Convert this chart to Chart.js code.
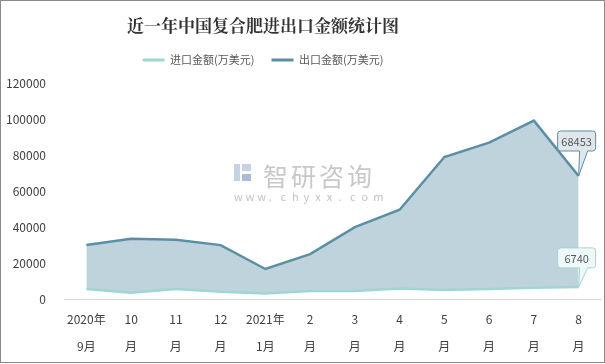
<!DOCTYPE html>
<html>
<head>
<meta charset="utf-8">
<script src="https://cdn.jsdelivr.net/npm/chart.js@4"></script>
<style>
  html, body { margin: 0; padding: 0; background: #fff; }
  #wrap { width: 603px; height: 361px; border: 1px solid #8a8a8a; position: relative; }
</style>
</head>
<body>
<div id="wrap"><canvas id="tradeChart"></canvas></div>
<script>
// Monthly data, 2020-09 .. 2021-08
const months = [['2020年', '9月'], ['10', '月'], ['11', '月'], ['12', '月'], ['2021年', '1月'], ['2', '月'],
    ['3', '月'], ['4', '月'], ['5', '月'], ['6', '月'], ['7', '月'], ['8', '月']];
const importValues = [5500, 3500, 5600, 4000, 3000, 4500, 4500, 5800, 5000, 5500, 6300, 6740];
const exportValues = [30000, 33500, 33000, 30000, 16700, 25000, 40000, 49700, 79000, 87000, 99300, 68453];
const yTicks = [0, 20000, 40000, 60000, 80000, 100000, 120000];

const cjk = '"Noto Sans CJK SC", "Noto Sans", sans-serif';

// shift a layout box horizontally when it is drawn
function shiftBox(box, dx) {
    const draw = box.draw.bind(box);
    box.draw = function (area) {
        this.ctx.save();
        this.ctx.translate(dx, 0);
        draw(area);
        this.ctx.restore();
    };
}

// Watermark + callouts for last values
const extras = {
    id: 'extras',
    afterInit(chart) {
        // extra gap below the legend
        const lg = chart.legend;
        const fit = lg.fit.bind(lg);
        lg.fit = function () { fit(); this.height += 8; };
        shiftBox(lg, -40);
        shiftBox(chart.titleBlock, -40);
    },
    beforeDatasetsDraw(chart) {
        const ctx = chart.ctx;
        ctx.save();
        // logo-ish mark
        ctx.fillStyle = '#c5d3e3';
        ctx.fillRect(233, 163, 6, 17);
        ctx.fillRect(241, 163, 9, 7);
        ctx.fillStyle = '#a9bed6';
        ctx.fillRect(241, 173, 9, 7);
        ctx.fillStyle = '#c8c8c8';
        ctx.font = '25px ' + cjk;
        ctx.textBaseline = 'middle';
        let x = 262;
        for (const ch of '智研咨询') { ctx.fillText(ch, x, 175); x += 28; }
        ctx.font = '11px ' + cjk;
        ctx.fillStyle = '#c3c3c3';
        x = 233;
        for (const ch of 'www.chyxx.com') { ctx.fillText(ch, x, 196); x += 11.6; }
        ctx.restore();
    },
    afterDatasetsDraw(chart) {
        const ctx = chart.ctx;
        const drawBox = (ds, text, stroke, fill, dy) => {
            const meta = chart.getDatasetMeta(ds);
            const pt = meta.data[meta.data.length - 1];
            const w = 38, h = 20;
            const bx = pt.x - 21, by = pt.y + dy;
            ctx.save();
            ctx.beginPath();
            const r = 3;
            ctx.moveTo(bx + r, by);
            ctx.lineTo(bx + w - r, by);
            ctx.quadraticCurveTo(bx + w, by, bx + w, by + r);
            ctx.lineTo(bx + w, by + h - r);
            ctx.quadraticCurveTo(bx + w, by + h, bx + w - r, by + h);
            ctx.lineTo(bx + w - 8, by + h);
            ctx.lineTo(pt.x, pt.y);
            ctx.lineTo(bx + w - 16, by + h);
            ctx.lineTo(bx + r, by + h);
            ctx.quadraticCurveTo(bx, by + h, bx, by + h - r);
            ctx.lineTo(bx, by + r);
            ctx.quadraticCurveTo(bx, by, bx + r, by);
            ctx.closePath();
            ctx.fillStyle = fill;
            ctx.fill();
            ctx.strokeStyle = stroke;
            ctx.lineWidth = 1;
            ctx.stroke();
            ctx.fillStyle = '#595959';
            ctx.font = '11px ' + cjk;
            ctx.textAlign = 'center';
            ctx.textBaseline = 'middle';
            ctx.fillText(text, bx + w / 2, by + h / 2 + 1);
            ctx.restore();
        };
        drawBox(1, String(exportValues[exportValues.length - 1]), '#5b8fa3', '#dde7ec', -45);
        drawBox(0, String(importValues[importValues.length - 1]), '#9fd6d3', '#eef8f8', -39);
    }
};

document.addEventListener('DOMContentLoaded', () => {
    const el = document.getElementById('tradeChart');
    if (!el) return;
    new Chart(el.getContext('2d'), {
        type: 'line',
        data: {
            labels: months,
            datasets: [
                {
                    label: '进口金额(万美元)',
                    data: importValues,
                    borderColor: '#9fd6d3',
                    backgroundColor: '#9fd6d3',
                    borderWidth: 2.5,
                    pointRadius: 0,
                    fill: false,
                    tension: 0
                },
                {
                    label: '出口金额(万美元)',
                    data: exportValues,
                    borderColor: '#5b8fa3',
                    backgroundColor: '#bfd3dc',
                    borderWidth: 2.5,
                    pointRadius: 0,
                    fill: '-1',
                    tension: 0
                }
            ]
        },
        options: {
            responsive: true,
            maintainAspectRatio: false,
            animation: false,
            layout: { padding: { left: 4, right: 3, top: 4, bottom: 2 } },
            plugins: {
                title: {
                    display: true,
                    text: '近一年中国复合肥进出口金额统计图',
                    color: '#333',
                    font: { family: '"Noto Serif CJK SC", "Noto Sans CJK SC", serif', size: 17, weight: 'bold' },
                    padding: { top: 10, bottom: 2 }
                },
                legend: {
                    position: 'top',
                    labels: {
                        color: '#595959',
                        font: { family: cjk, size: 11 },
                        boxWidth: 22,
                        boxHeight: 3,
                        padding: 17,
                        generateLabels(chart) {
                            return chart.data.datasets.map((d, i) => ({
                                text: d.label,
                                fillStyle: d.borderColor,
                                strokeStyle: d.borderColor,
                                lineWidth: 0,
                                hidden: false,
                                datasetIndex: i,
                                fontColor: '#595959'
                            }));
                        }
                    }
                },
                tooltip: { enabled: false }
            },
            scales: {
                x: {
                    offset: true,
                    afterFit(axis) { axis.height = 61; },
                    grid: { display: false, drawTicks: false },
                    border: { display: true, color: '#d9d9d9', width: 1 },
                    ticks: {
                        color: '#404040',
                        font: { family: cjk, size: 12, lineHeight: 2.25 },
                        maxRotation: 0,
                        autoSkip: false,
                        padding: 7
                    }
                },
                y: {
                    min: 0,
                    max: 120000,
                    afterBuildTicks(axis) { axis.ticks = yTicks.map(v => ({ value: v })); },
                    afterFit(axis) { axis.width = 59; },
                    grid: { display: false, drawTicks: false },
                    border: { display: false },
                    ticks: {
                        color: '#404040',
                        font: { family: cjk, size: 12 },
                        padding: 18,
                        callback: v => String(v)
                    }
                }
            }
        },
        plugins: [extras]
    });
});
</script>
</body>
</html>
